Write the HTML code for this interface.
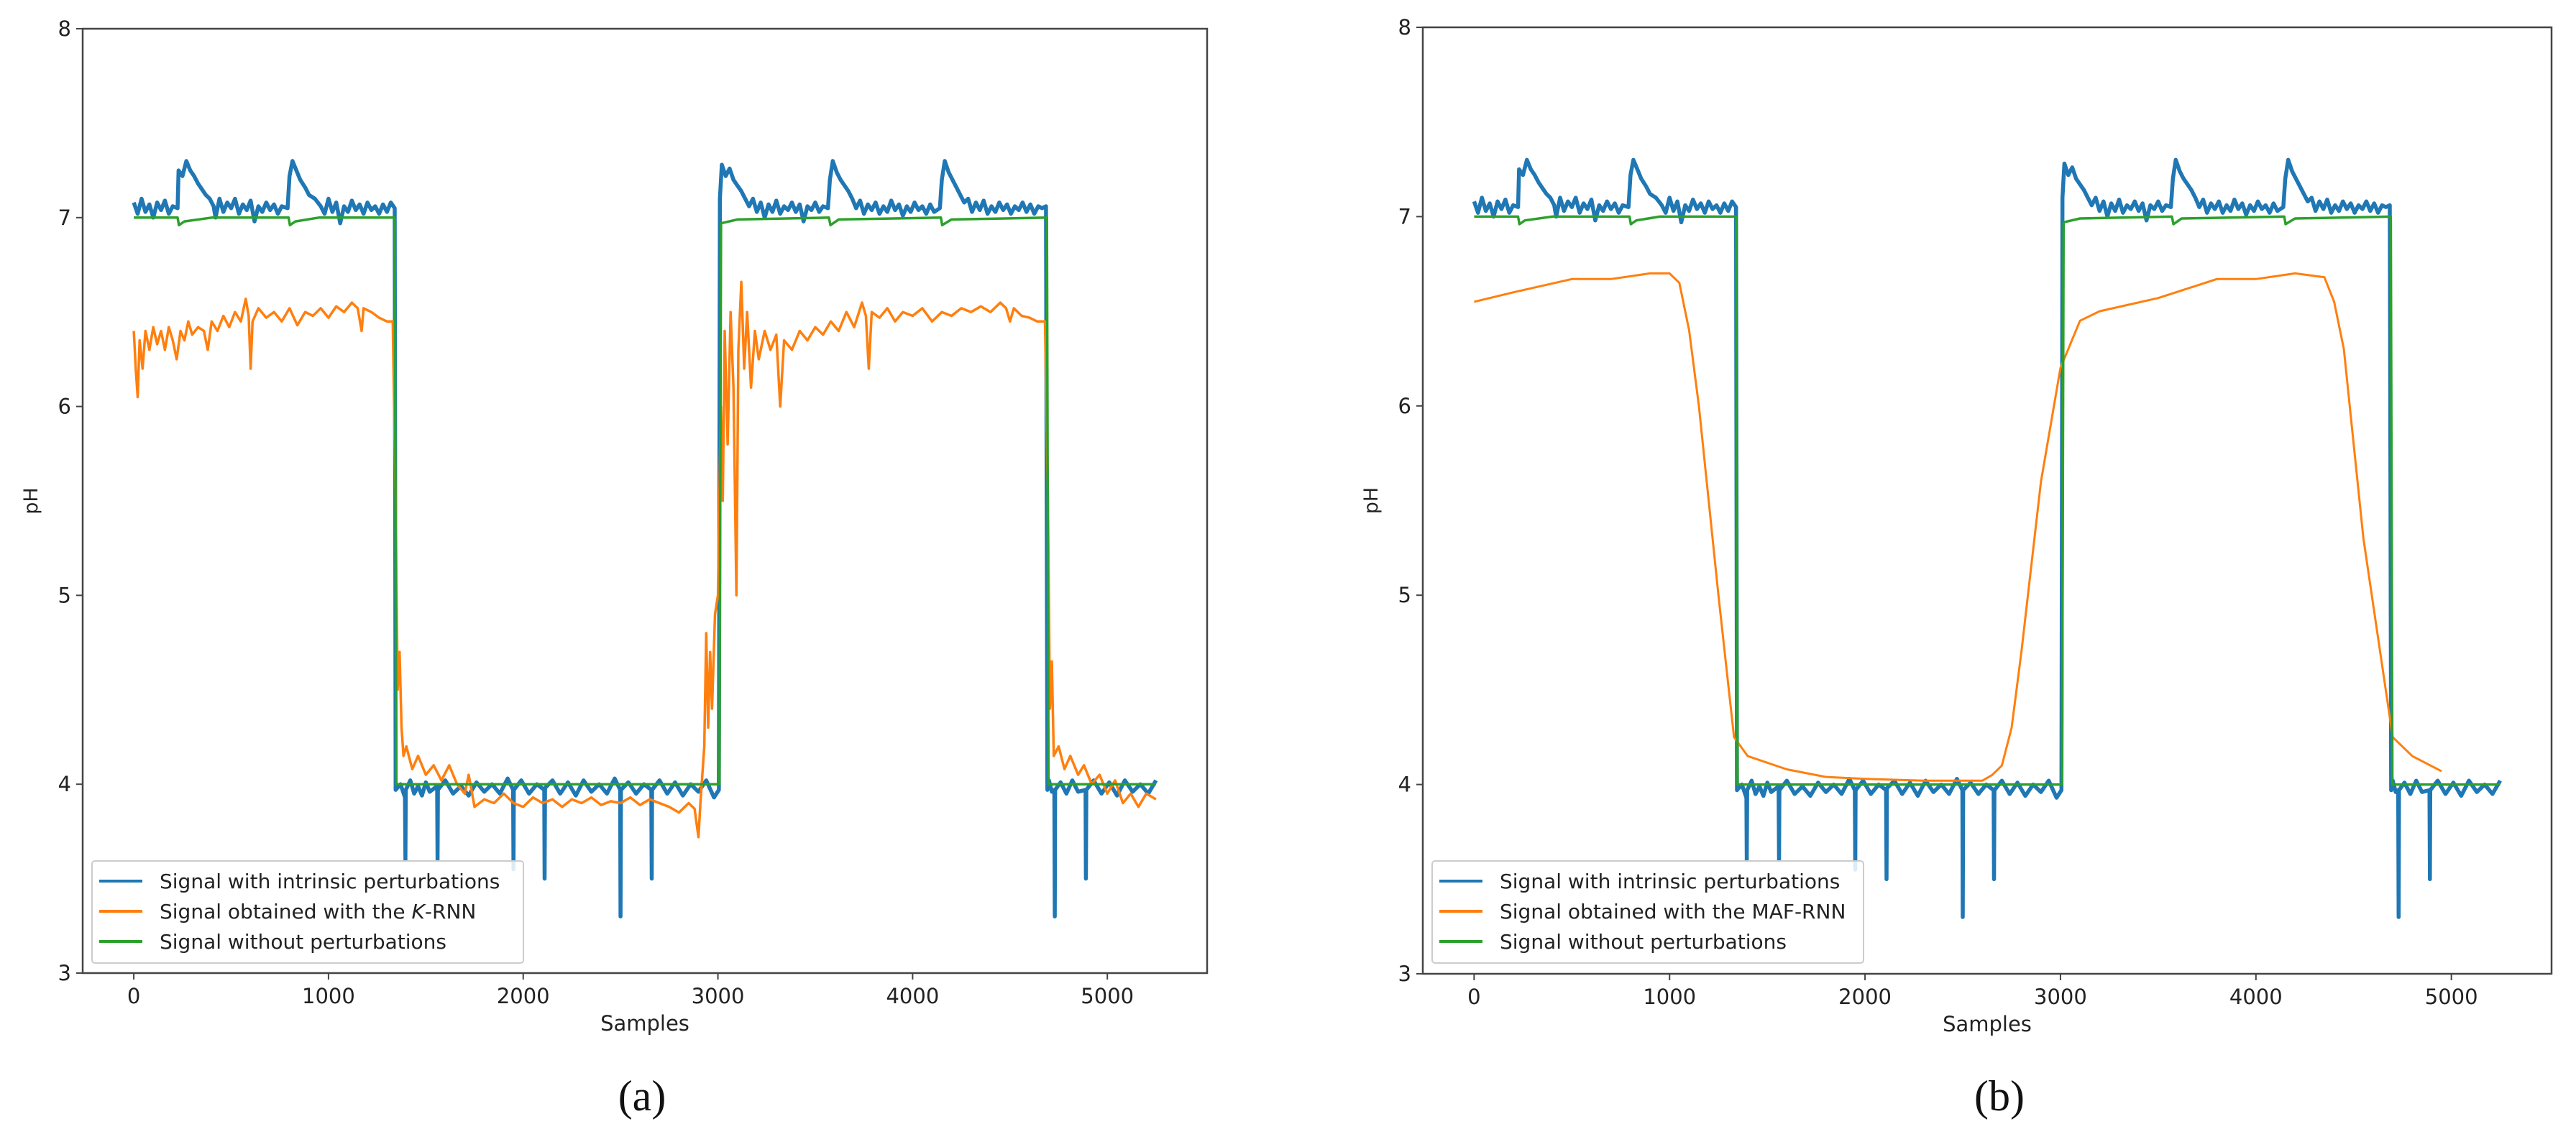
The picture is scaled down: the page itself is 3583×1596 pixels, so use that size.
<!DOCTYPE html>
<html><head><meta charset="utf-8">
<style>
body{margin:0;background:#fff;}
svg{display:block;}
text{font-family:"DejaVu Sans","Liberation Sans",sans-serif;fill:#222;}
.cap{font-family:"Liberation Serif",serif;font-size:60px;fill:#111;}
</style></head>
<body>
<svg id="fig" xmlns="http://www.w3.org/2000/svg" width="3583" height="1596" viewBox="0 0 3583 1596">
<rect width="3583" height="1596" fill="#fff"/>
</svg>
<script>
const xTicks=[0,1000,2000,3000,4000,5000];
const yTicks=[3,4,5,6,7,8];
const bluePoints=[
[0,7.08],[20,7.02],[40,7.1],[60,7.03],[80,7.07],[100,7.0],[120,7.08],[140,7.04],[160,7.09],[180,7.02],[200,7.06],[225,7.05],
[230,7.25],[250,7.22],[270,7.3],[290,7.25],[310,7.22],[330,7.18],[350,7.15],[370,7.12],[390,7.1],[410,7.06],
[420,7.0],[440,7.1],[460,7.03],[480,7.08],[500,7.05],[520,7.1],[540,7.02],[560,7.07],[580,7.04],[600,7.09],[620,6.98],[640,7.06],[660,7.03],[680,7.08],[700,7.04],[720,7.07],[740,7.02],[760,7.06],[790,7.05],
[800,7.22],[815,7.3],[835,7.25],[855,7.2],[880,7.16],[900,7.12],[930,7.1],[960,7.06],
[980,7.02],[1000,7.1],[1020,7.03],[1040,7.08],[1060,6.97],[1080,7.06],[1100,7.03],[1120,7.09],[1140,7.04],[1160,7.07],[1180,7.02],[1200,7.08],[1220,7.04],[1240,7.06],[1260,7.02],[1280,7.07],[1300,7.03],[1320,7.08],[1340,7.05],
[1345,3.97],[1370,4.0],[1393,3.93],[1395,3.6],[1397,3.97],[1420,4.02],[1440,3.95],[1460,3.99],[1480,3.94],[1500,4.01],[1520,3.96],
[1558,3.99],[1560,3.6],[1562,3.97],[1600,4.02],[1640,3.95],[1680,3.99],[1720,3.94],[1760,4.01],[1800,3.96],[1840,4.0],[1880,3.95],[1920,4.03],
[1948,3.97],[1950,3.55],[1952,3.97],[1990,4.02],[2030,3.95],[2070,4.0],[2108,3.97],[2110,3.5],[2112,3.98],
[2150,4.02],[2190,3.95],[2230,4.01],[2270,3.94],[2310,4.02],[2350,3.96],[2390,4.0],[2430,3.95],[2470,4.03],
[2498,3.97],[2500,3.3],[2502,3.97],[2540,4.01],[2580,3.95],[2620,4.0],[2658,3.97],[2660,3.5],[2662,3.97],
[2700,4.02],[2740,3.95],[2780,4.01],[2820,3.94],[2860,4.0],[2900,3.96],[2940,4.02],[2980,3.93],[3005,3.97],
[3010,7.1],[3020,7.28],[3040,7.22],[3060,7.26],[3080,7.2],[3100,7.17],[3120,7.14],[3140,7.1],[3160,7.06],
[3180,7.1],[3200,7.03],[3220,7.08],[3240,7.0],[3260,7.07],[3280,7.03],[3300,7.09],[3320,7.02],[3340,7.06],[3360,7.04],[3380,7.08],[3400,7.03],[3420,7.07],[3440,6.98],[3460,7.06],[3480,7.04],[3500,7.08],[3520,7.03],[3540,7.06],[3565,7.05],
[3575,7.2],[3590,7.3],[3610,7.24],[3630,7.2],[3650,7.17],[3670,7.14],[3690,7.1],[3710,7.05],
[3730,7.09],[3750,7.02],[3770,7.07],[3790,7.04],[3810,7.08],[3830,7.02],[3850,7.06],[3870,7.03],[3890,7.09],[3910,7.04],[3930,7.07],[3950,7.01],[3970,7.06],[3990,7.03],[4010,7.08],[4030,7.04],[4050,7.06],[4070,7.02],[4090,7.07],[4110,7.03],[4140,7.05],
[4150,7.2],[4165,7.3],[4185,7.24],[4205,7.2],[4225,7.16],[4245,7.12],[4265,7.08],
[4285,7.1],[4305,7.03],[4325,7.08],[4345,7.04],[4365,7.09],[4385,7.02],[4405,7.06],[4425,7.03],[4445,7.08],[4465,7.04],[4485,7.07],[4505,7.02],[4525,7.06],[4545,7.04],[4565,7.08],[4585,7.03],[4605,7.07],[4625,7.02],[4645,7.06],[4665,7.05],[4685,7.06],
[4692,3.97],[4700,4.02],[4715,3.96],[4728,3.97],[4730,3.3],[4732,3.97],[4760,4.01],[4790,3.95],[4820,4.02],[4850,3.96],
[4888,3.97],[4890,3.5],[4892,3.97],[4930,4.02],[4970,3.95],[5010,4.01],[5050,3.94],[5090,4.02],[5130,3.96],[5170,4.0],[5210,3.95],[5250,4.02]
];
const greenX=[0,225,232,260,400,795,802,830,950,1340,1348,3008,3016,3100,3570,3578,3620,4145,4152,4200,4690,4698,5250];
const greenY=[7.0,7.0,6.96,6.98,7.0,7.0,6.96,6.98,7.0,7.0,4.0,4.0,6.97,6.99,7.0,6.96,6.99,7.0,6.96,6.99,7.0,4.0,4.0];
const krnnX=[0,10,20,30,45,60,80,100,120,140,160,180,200,220,240,260,280,300,330,360,380,400,430,460,490,520,550,575,590,600,610,640,680,720,760,800,840,880,920,960,1000,1040,1080,1120,1150,1170,1180,1220,1260,1300,1330,1345,1355,1365,1375,1385,1400,1430,1460,1500,1540,1580,1620,1660,1700,1720,1750,1800,1850,1900,1950,2000,2050,2100,2150,2200,2250,2300,2350,2400,2450,2500,2550,2600,2650,2700,2750,2800,2850,2880,2900,2910,2930,2940,2950,2960,2970,2985,3000,3015,3025,3035,3050,3065,3080,3095,3105,3120,3135,3150,3170,3190,3210,3240,3270,3300,3320,3340,3380,3420,3460,3500,3540,3580,3620,3660,3700,3740,3760,3775,3790,3830,3870,3910,3950,4000,4050,4100,4150,4200,4250,4300,4350,4400,4450,4480,4500,4520,4560,4600,4640,4680,4695,4705,4715,4725,4750,4780,4810,4850,4880,4920,4960,5000,5040,5080,5120,5160,5200,5250];
const krnnY=[6.4,6.2,6.05,6.35,6.2,6.4,6.3,6.42,6.33,6.4,6.3,6.42,6.35,6.25,6.4,6.35,6.45,6.38,6.42,6.4,6.3,6.45,6.4,6.48,6.42,6.5,6.45,6.57,6.48,6.2,6.45,6.52,6.47,6.5,6.45,6.52,6.43,6.5,6.48,6.52,6.47,6.53,6.5,6.55,6.52,6.4,6.52,6.5,6.47,6.45,6.45,5.5,4.5,4.7,4.3,4.15,4.2,4.08,4.15,4.05,4.1,4.02,4.1,4.0,3.95,4.05,3.88,3.92,3.9,3.95,3.9,3.88,3.93,3.9,3.92,3.88,3.92,3.9,3.93,3.89,3.91,3.9,3.93,3.89,3.92,3.9,3.88,3.85,3.9,3.87,3.72,3.9,4.2,4.8,4.3,4.7,4.4,4.9,5.0,6.0,5.5,6.4,5.8,6.5,6.1,5.0,6.3,6.66,6.2,6.5,6.1,6.4,6.25,6.4,6.3,6.38,6.0,6.35,6.3,6.4,6.35,6.42,6.38,6.45,6.4,6.5,6.42,6.55,6.48,6.2,6.5,6.47,6.52,6.45,6.5,6.48,6.52,6.45,6.5,6.48,6.52,6.5,6.53,6.5,6.55,6.52,6.45,6.52,6.48,6.47,6.45,6.45,5.5,4.4,4.65,4.15,4.2,4.08,4.15,4.05,4.1,4.0,4.05,3.95,4.02,3.9,3.95,3.88,3.95,3.92];
const mafX=[0,200,500,700,900,1000,1050,1100,1150,1250,1330,1400,1600,1800,2000,2300,2600,2650,2700,2750,2800,2900,3000,3100,3200,3500,3800,4000,4200,4350,4400,4450,4550,4700,4800,4950];
const mafY=[6.55,6.6,6.67,6.67,6.7,6.7,6.65,6.4,6.0,5.0,4.25,4.15,4.08,4.04,4.03,4.02,4.02,4.05,4.1,4.3,4.7,5.6,6.2,6.45,6.5,6.57,6.67,6.67,6.7,6.68,6.55,6.3,5.3,4.25,4.15,4.07];
const blueX=bluePoints.map(p=>p[0]);
const blueY=bluePoints.map(p=>p[1]);

const NS='http://www.w3.org/2000/svg';
const fig=document.getElementById('fig');
function mk(tag,attrs,parent){const e=document.createElementNS(NS,tag);for(const k in attrs)e.setAttribute(k,attrs[k]);(parent||fig).appendChild(e);return e;}

function panel(L,T,R,B,orangeX,orangeY,orangeW,label2,cap,capX,pid){
  const g=mk('g',{});
  
  
  const xmin=-262.5,xmax=5512.5,ymin=3,ymax=8;
  const sx=v=>L+(v-xmin)/(xmax-xmin)*(R-L);
  const sy=v=>B-(v-ymin)/(ymax-ymin)*(B-T);
  const cp=mk('clipPath',{id:'cp'+pid},g);mk('rect',{x:L,y:T,width:R-L,height:B-T},cp);
  const plot=mk('g',{'clip-path':'url(#cp'+pid+')'},g);
  function line(xs,ys,col,w,name){
    let d='';for(let i=0;i<xs.length;i++)d+=(i?'L':'M')+sx(xs[i]).toFixed(1)+','+sy(ys[i]).toFixed(1);
    const p=mk('path',{d:d,fill:'none',stroke:col,'stroke-width':w,'stroke-linejoin':'round'},plot);
    
    
  }
  line(blueX,blueY,'#1f77b4',5.5,'series-intrinsic-perturbations');
  line(orangeX,orangeY,'#ff7f0e',orangeW,'series-rnn-output');
  line(greenX,greenY,'#2ca02c',3.5,'series-without-perturbations');
  const fr=mk('rect',{x:L,y:T,width:R-L,height:B-T,fill:'none',stroke:'#444','stroke-width':2.5},g);
  
  
  xTicks.forEach(v=>{
    mk('line',{x1:sx(v),x2:sx(v),y1:B,y2:B+9,stroke:'#444','stroke-width':2},g);
    const t=mk('text',{x:sx(v),y:B+42,'font-size':29,'text-anchor':'middle'},g);t.textContent=v;
    
    
  });
  yTicks.forEach(v=>{
    mk('line',{x1:L-9,x2:L,y1:sy(v),y2:sy(v),stroke:'#444','stroke-width':2},g);
    const t=mk('text',{x:L-16,y:sy(v)+10,'font-size':29,'text-anchor':'end'},g);t.textContent=v;
    
    
  });
  const xl=mk('text',{x:(L+R)/2,y:B+80,'font-size':29,'text-anchor':'middle'},g);xl.textContent='Samples';
  
  
  const yl=mk('text',{x:0,y:0,'font-size':27,'text-anchor':'middle',transform:'translate('+(L-63)+','+((T+B)/2)+') rotate(-90)'},g);yl.textContent='pH';
  
  
  const lg=mk('g',{},g);
  
  
  const lx=L+13,ly=1198;
  mk('rect',{x:lx,y:ly,width:600,height:142,fill:'#fff','fill-opacity':0.85,stroke:'#ccc','stroke-width':2,rx:4},lg);
  const ents=[['#1f77b4','Signal with intrinsic perturbations'],['#ff7f0e',label2],['#2ca02c','Signal without perturbations']];
  ents.forEach((e,i)=>{
    const yy=ly+28+i*42;
    mk('line',{x1:lx+10,x2:lx+70,y1:yy,y2:yy,stroke:e[0],'stroke-width':4},lg);
    const t=mk('text',{x:lx+94,y:yy+10,'font-size':28},lg);
    
    
    if(e[1].indexOf('K-RNN')>=0){
      t.appendChild(document.createTextNode('Signal obtained with the '));
      const it=mk('tspan',{'font-style':'italic'},t);it.textContent='K';
      t.appendChild(document.createTextNode('-RNN'));
    } else t.textContent=e[1];
  });
  const c=mk('text',{x:capX,y:1545,'text-anchor':'middle',class:'cap'},g);c.textContent=cap;
  
  
}
panel(115,40,1679,1354,krnnX,krnnY,3.5,'Signal obtained with the K-RNN','(a)',893,'a');
panel(1979,38,3549,1355,mafX,mafY,3,'Signal obtained with the MAF-RNN','(b)',2781,'b');
</script>
</body></html>
